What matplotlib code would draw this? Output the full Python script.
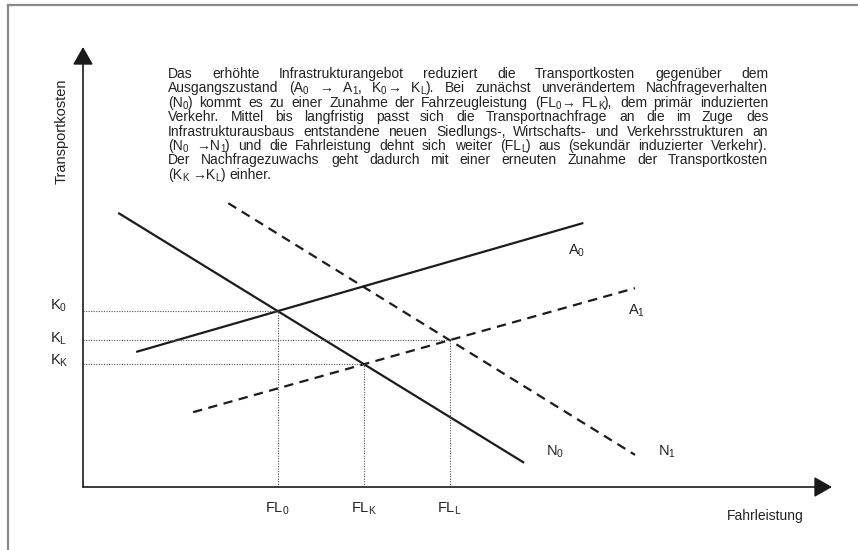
import re
import matplotlib
matplotlib.use('Agg')
import matplotlib.pyplot as plt
from matplotlib.lines import Line2D
import numpy as np

plt.rcParams['font.family'] = ['Liberation Sans', 'DejaVu Sans']
plt.rcParams['mathtext.default'] = 'regular'

# ---------------- data (chart units: 0..100 on each axis) ----------------
N0_x = [4.7, 58.9]
N0_y = [62.3, 5.5]
A0_x = [7.1, 66.8]
A0_y = [30.7, 60.0]
A1_x = [14.7, 73.7]
A1_y = [17.0, 45.2]
N1_x = [19.4, 73.7]
N1_y = [64.5, 7.3]

curve_labels = ['A$_0$', 'A$_1$', 'N$_0$', 'N$_1$']
cost_labels = ['K$_0$', 'K$_L$', 'K$_K$']
output_labels = ['FL$_0$', 'FL$_K$', 'FL$_L$']
y_title = 'Transportkosten'
x_title = 'Fahrleistung'

para_lines = [
    'Das erhöhte Infrastrukturangebot reduziert die Transportkosten gegenüber dem',
    'Ausgangszustand (A$_0$ → A$_1$, K$_0$→ K$_L$). Bei zunächst unverändertem Nachfrageverhalten',
    '(N$_0$) kommt es zu einer Zunahme der Fahrzeugleistung (FL$_0$→ FL$_K$), dem primär induzierten',
    'Verkehr. Mittel bis langfristig passt sich die Transportnachfrage an die im Zuge des',
    'Infrastrukturausbaus entstandene neuen Siedlungs-, Wirtschafts- und Verkehrsstrukturen an',
    '(N$_0$ →N$_1$) und die Fahrleistung dehnt sich weiter (FL$_L$) aus (sekundär induzierter Verkehr).',
    'Der Nachfragezuwachs geht dadurch mit einer erneuten Zunahme der Transportkosten',
    '(K$_K$ →K$_L$) einher.',
]


def intersect(xa, ya, xb, yb):
    ma = (ya[1] - ya[0]) / (xa[1] - xa[0])
    mb = (yb[1] - yb[0]) / (xb[1] - xb[0])
    ca = ya[0] - ma * xa[0]
    cb = yb[0] - mb * xb[0]
    x = (cb - ca) / (ma - mb)
    return x, ma * x + ca


# ---------------- figure ----------------
W, H = 858, 550
fig = plt.figure(figsize=(W / 100, H / 100), dpi=100)
bg = fig.add_axes([0, 0, 1, 1])
bg.set_xlim(0, W)
bg.set_ylim(H, 0)
bg.axis('off')

# outer frame (left and top edges)
frame_col = '#8a8a8a'
bg.add_line(Line2D([8, 8], [H, 5], color=frame_col, lw=1.6))
bg.add_line(Line2D([8, W], [5, 5], color=frame_col, lw=1.6))

ox, oy, tx, ty = 83, 487, 832, 47
ax = fig.add_axes([ox / W, (H - oy) / H, (tx - ox) / W, (oy - ty) / H])
ax.set_xlim(0, 100)
ax.set_ylim(0, 100)
ax.axis('off')

axis_col = '#1a1a1a'
arrow = dict(arrowstyle='-|>,head_length=0.42,head_width=0.24', mutation_scale=26,
             color=axis_col, lw=1.2, shrinkA=0, shrinkB=0)
ax.annotate('', xy=(100, 0), xytext=(0, 0), arrowprops=arrow, annotation_clip=False)
ax.annotate('', xy=(0, 100), xytext=(0, 0), arrowprops=arrow, annotation_clip=False)

line_col = '#1c1c1c'
ax.plot(N0_x, N0_y, color=line_col, lw=1.6, solid_capstyle='butt')
ax.plot(A0_x, A0_y, color=line_col, lw=1.6, solid_capstyle='butt')
ax.plot(A1_x, A1_y, color=line_col, lw=1.6, ls=(0, (4.2, 2.9)), dash_capstyle='butt')
ax.plot(N1_x, N1_y, color=line_col, lw=1.6, ls=(0, (4.2, 2.9)), dash_capstyle='butt')

p0 = intersect(N0_x, N0_y, A0_x, A0_y)
pK = intersect(N0_x, N0_y, A1_x, A1_y)
pL = intersect(N1_x, N1_y, A1_x, A1_y)

dot = dict(color='#555555', lw=0.8, ls=(0, (1, 1.3)))
for (px, py) in (p0, pK, pL):
    ax.plot([0, px], [py, py], **dot)
    ax.plot([px, px], [0, py], **dot)

fs_lab = 10.5
txt_col = '#222222'
for lab, (px, py), dy in zip(cost_labels, (p0, pL, pK), (5, 1, 3)):
    ax.annotate(lab, xy=(0, py), xytext=(-24, dy), textcoords='offset pixels',
                ha='center', va='center', fontsize=fs_lab, color=txt_col,
                annotation_clip=False)
for lab, (px, py) in zip(output_labels, (p0, pK, pL)):
    ax.annotate(lab, xy=(px, 0), xytext=(0, -22), textcoords='offset pixels',
                ha='center', va='center', fontsize=fs_lab, color=txt_col,
                annotation_clip=False)

ends = [(A0_x[1], A0_y[1]), (A1_x[1], A1_y[1]), (N0_x[1], N0_y[1]), (N1_x[1], N1_y[1])]
offs = [(-7, -28), (2, -23), (31, 11), (32, 3)]
for lab, xy, off in zip(curve_labels, ends, offs):
    ax.annotate(lab, xy=xy, xytext=off, textcoords='offset pixels',
                ha='center', va='center', fontsize=fs_lab, color=txt_col,
                annotation_clip=False)

bg.text(62, 131, y_title, rotation=90, ha='center', va='center', fontsize=10.5, color=txt_col)
bg.text(765, 516, x_title, ha='center', va='center', fontsize=10, color=txt_col)

# ---------------- justified paragraph (subscripts drawn as small text) ----------------
fs_p = 10
fs_sub = 7
sub_drop = 1.8
left, right = 168, 768
base0, lh = 78, 14.4
renderer = fig.canvas.get_renderer()
space_w = fs_p * 100 / 72 * 0.278


def split_segments(word):
    parts = re.split(r'\$_(.+?)\$', word)
    return [(p, j % 2 == 1) for j, p in enumerate(parts) if p]


for i, line in enumerate(para_lines):
    words = line.split(' ')
    y = round(base0 + i * lh)
    word_objs = []
    word_widths = []
    for w in words:
        segs = []
        total = 0.0
        for s, is_sub in split_segments(w):
            o = bg.text(0, y + (sub_drop if is_sub else 0), s,
                        fontsize=fs_sub if is_sub else fs_p, color=txt_col,
                        ha='left', va='baseline')
            sw = o.get_window_extent(renderer).width
            segs.append((o, total))
            total += sw
        word_objs.append(segs)
        word_widths.append(total)
    if i < len(para_lines) - 1 and len(words) > 1:
        gap = (right - left - sum(word_widths)) / (len(words) - 1)
    else:
        gap = space_w
    x = left
    for segs, wwid in zip(word_objs, word_widths):
        for o, rel in segs:
            o.set_x(round(x + rel))
        x += wwid + gap

fig.savefig('out.png', dpi=100)
